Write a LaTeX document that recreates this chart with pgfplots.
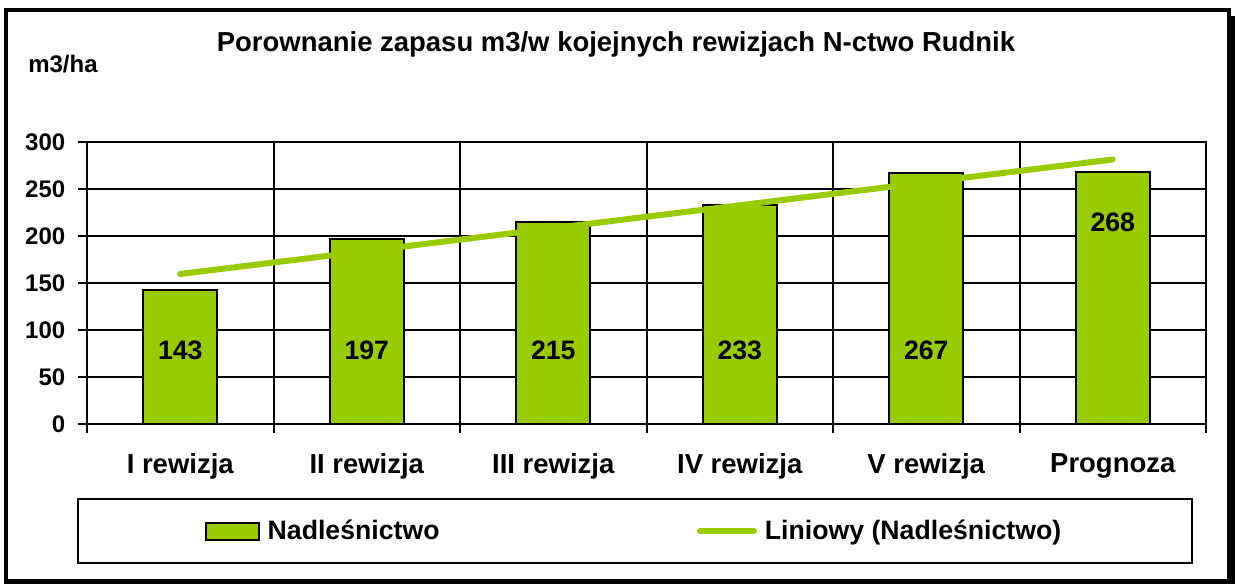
\documentclass[border=0pt]{standalone}
\usepackage{fontspec}
\setmainfont{Liberation Sans}
\usepackage{pgfplots}
\pgfplotsset{compat=1.18}
\definecolor{barg}{HTML}{99CC00}
\begin{document}
\begin{tikzpicture}[x=0.75pt,y=0.75pt]
\useasboundingbox (0,0) rectangle (1235,584);
\draw[line width=3.5pt] (6,574) rectangle (1229,2.5);
\fill (1229,0) rectangle (1235,568);
\node[anchor=base, inner sep=0pt, font=\fontsize{20.6}{24}\selectfont\bfseries] at (616,532) {Porownanie zapasu m3/w kojejnych rewizjach N-ctwo Rudnik};
\node[anchor=base west, inner sep=0pt, font=\fontsize{18}{20}\selectfont\bfseries] at (28,511) {m3/ha};
\coordinate (O) at (87,160);
\begin{axis}[
  at={(O)}, anchor=south west,
  scale only axis, width=839.25pt, height=211.5pt,
  xmin=-0.5, xmax=5.5, ymin=0, ymax=300,
  ytick={0,50,...,300},
  xtick={-0.5,0.5,...,5.5}, xticklabels={},
  extra x ticks={0,1,2,3,4,5},
  extra x tick labels={I rewizja,II rewizja,III rewizja,IV rewizja,V rewizja,Prognoza},
  extra x tick style={major tick length=0pt, grid=none,
     xticklabel style={font=\fontsize{20.6}{24}\selectfont\bfseries, yshift=-19pt}},
  xmajorgrids, ymajorgrids,
  grid style={black, line width=1.5pt},
  axis line style={black, line width=1.5pt},
  tick style={black, line width=1.5pt},
  major tick length=6.75pt, tick align=outside,
  xtick pos=bottom, ytick pos=left,
  yticklabel style={font=\fontsize{18}{20}\selectfont\bfseries, xshift=-6pt},
  /pgf/number format/assume math mode=true,
  legend columns=2,
  legend style={at={(rel axis cs:-0.0089,-0.2624)}, anchor=north west,
     draw=black, line width=1.5pt, inner xsep=95pt, inner ysep=16pt,
     font=\fontsize{20}{24}\selectfont\bfseries,
     nodes={inner xsep=3pt, inner ysep=0pt},
     /tikz/every even column/.append style={column sep=190pt}},
]
\addplot[ybar, bar width=55.5pt, fill=barg, draw=black, line width=1.5pt,
  legend image code/.code={\draw[black, fill=barg, line width=1.5pt] (0pt,-6.4pt) rectangle (39.75pt,6.4pt); \path (42.75pt,0pt);}]
  coordinates {(0,143) (1,197) (2,215) (3,233) (4,267) (5,268)};
\addlegendentry{Nadleśnictwo}
\addplot[barg, line width=4.5pt, line cap=round,
  legend image code/.code={\draw[barg, line width=4.5pt, line cap=round] (2.25pt,0pt) -- (42.75pt,0pt); \path (45.75pt,0pt);}]
  coordinates {(0,159.6) (5,281.4)};
\addlegendentry{Liniowy (Nadleśnictwo)}
\node[font=\fontsize{20}{24}\selectfont\bfseries] at (axis cs:0,78.7) {143};
\node[font=\fontsize{20}{24}\selectfont\bfseries] at (axis cs:1,78.7) {197};
\node[font=\fontsize{20}{24}\selectfont\bfseries] at (axis cs:2,78.7) {215};
\node[font=\fontsize{20}{24}\selectfont\bfseries] at (axis cs:3,78.7) {233};
\node[font=\fontsize{20}{24}\selectfont\bfseries] at (axis cs:4,78.7) {267};
\node[font=\fontsize{20}{24}\selectfont\bfseries] at (axis cs:5,214.9) {268};
\end{axis}
\end{tikzpicture}
\end{document}
